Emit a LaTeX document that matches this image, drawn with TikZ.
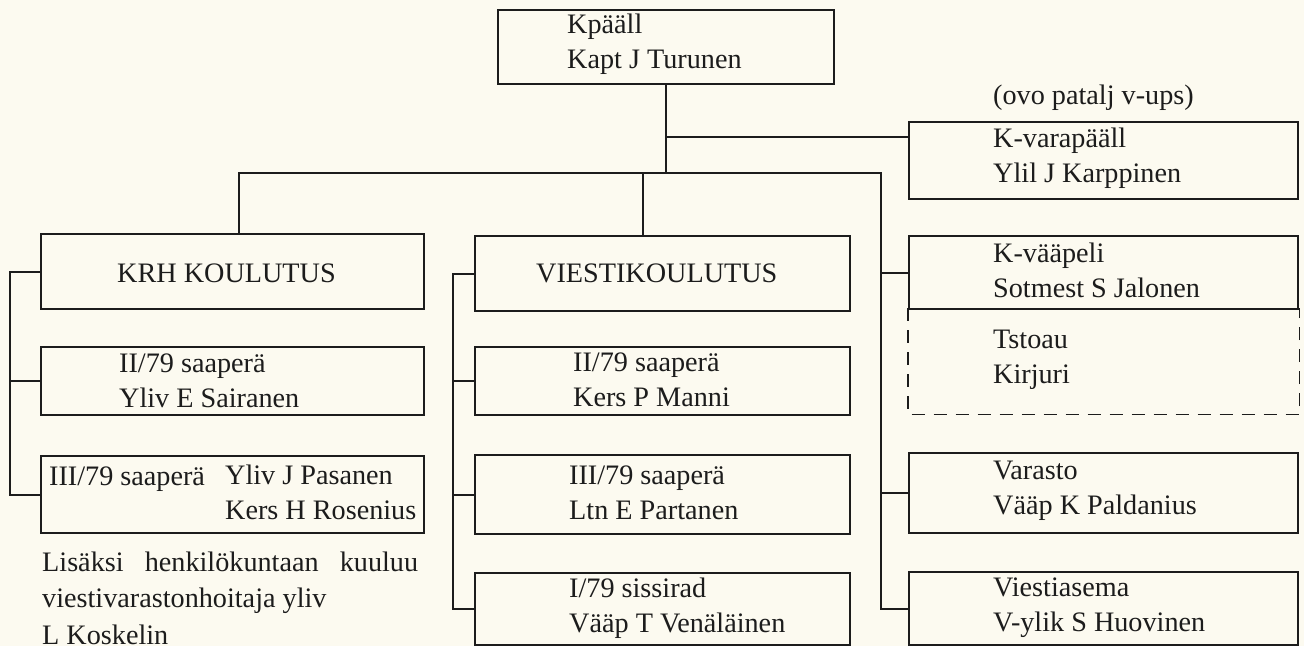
\documentclass[tikz,border=0pt]{standalone}
\usepackage{fontspec}
\setmainfont{Liberation Serif}
\definecolor{paper}{RGB}{252,250,240}
\definecolor{ink}{RGB}{28,28,28}

\begin{document}
\begin{tikzpicture}[x=1pt, y=-1pt, line width=2.4pt, color=ink,
    unit/.style={draw=ink, anchor=north west, inner sep=0pt},
    openunit/.style={anchor=north west, inner sep=0pt},
    txt/.style={anchor=base west, align=left, inner sep=0pt, text=ink,
        font=\fontsize{28.2}{35}\selectfont}]
    \fill [paper] (0,0) rectangle (1304,646);
    \useasboundingbox (0,0) rectangle (1304,646);

    \node[unit, minimum width=336pt, minimum height=74pt] (paall) at (497,9) {};
    \node[unit, minimum width=389pt, minimum height=77pt] (kvara) at (908,121) {};
    \node[unit, minimum width=383pt, minimum height=75pt] (krh) at (40,233) {};
    \node[unit, minimum width=375pt, minimum height=75pt] (viesti) at (474,235) {};
    \node[unit, minimum width=389pt, minimum height=73pt] (kvaap) at (908,235) {};
    \node[openunit, minimum width=389pt, minimum height=104pt] (tstoau) at (908,308) {};
    \node[unit, minimum width=389pt, minimum height=80pt] (varasto) at (908,452) {};
    \node[unit, minimum width=389pt, minimum height=73pt] (viestias) at (908,571) {};
    \node[unit, minimum width=383pt, minimum height=68pt] (krh2) at (40,346) {};
    \node[unit, minimum width=383pt, minimum height=77pt] (krh3) at (40,455) {};
    \node[unit, minimum width=375pt, minimum height=68pt] (vie2) at (474,346) {};
    \node[unit, minimum width=375pt, minimum height=79pt] (vie3) at (474,454) {};
    \node[unit, minimum width=375pt, minimum height=72pt] (vie1) at (474,572) {};

    \coordinate (jvara) at (665,137);
    \coordinate (jkrh) at (239,173);
    \coordinate (jvie) at (643,173);
    \coordinate (jright) at (881,173);
    \coordinate (lkrh) at (10,0);
    \coordinate (lvie) at (453,0);

    \draw (paall.south) -- (paall.south |- jkrh);
    \draw (jvara) -- (jvara -| kvara.west);
    \draw (jkrh |- krh.north) -- (jkrh) -- (jright) -- (jright |- viestias.west) -- (viestias.west);
    \draw (jvie) -- (jvie |- viesti.north);
    \draw (jright |- kvaap.west) -- (kvaap.west) (jright |- varasto.west) -- (varasto.west);
    \draw (krh.west) -| (lkrh |- krh3.west) -- (krh3.west);
    \draw (lkrh |- krh2.west) -- (krh2.west);
    \draw (viesti.west) -| (lvie |- vie1.west) -- (vie1.west);
    \draw (lvie |- vie2.west) -- (vie2.west) (lvie |- vie3.west) -- (vie3.west);
    \draw [line width=1.8pt, dash pattern=on 13pt off 9pt]
        (tstoau.north west) -- (tstoau.south west) -- (tstoau.south east) -- (tstoau.north east);

    \node[txt] (paallt) at (566,68) {Kpääll\\Kapt J Turunen};
    \node[txt] (ovo) at (992,104) {(ovo patalj v-ups)};
    \node[txt] (kvarat) at (992,182) {K-varapääll\\Ylil J Karppinen};
    \node[txt] (krht) at (116,282) {KRH KOULUTUS};
    \node[txt] (viestit) at (535,282) {VIESTIKOULUTUS};
    \node[txt] (kvaapt) at (992,297) {K-vääpeli\\Sotmest S Jalonen};
    \node[txt] (tstoaut) at (992,383) {Tstoau\\Kirjuri};
    \node[txt] (varastot) at (992,514) {Varasto\\Vääp K Paldanius};
    \node[txt] (viestiast) at (992,631) {Viestiasema\\V-ylik S Huovinen};
    \node[txt] (krh2t) at (118,407) {II/79 saaperä\\Yliv E Sairanen};
    \node[txt] (krh3a) at (48,485) {III/79 saaperä};
    \node[txt] (krh3b) at (224,519) {Yliv J Pasanen\\Kers H Rosenius};
    \node[txt] (vie2t) at (572,406) {II/79 saaperä\\Kers P Manni};
    \node[txt] (vie3t) at (568,519) {III/79 saaperä\\Ltn E Partanen};
    \node[txt] (vie1t) at (568,632) {I/79 sissirad\\Vääp T Venäläinen};
    \node[txt, font=\fontsize{28.2}{36.5}\selectfont] (lisaksi) at (41,644)
        {Lisäksi\hspace{0.75em}henkilökuntaan\hspace{0.75em}kuuluu\\viestivarastonhoitaja yliv\\L Koskelin};
\end{tikzpicture}
\end{document}
